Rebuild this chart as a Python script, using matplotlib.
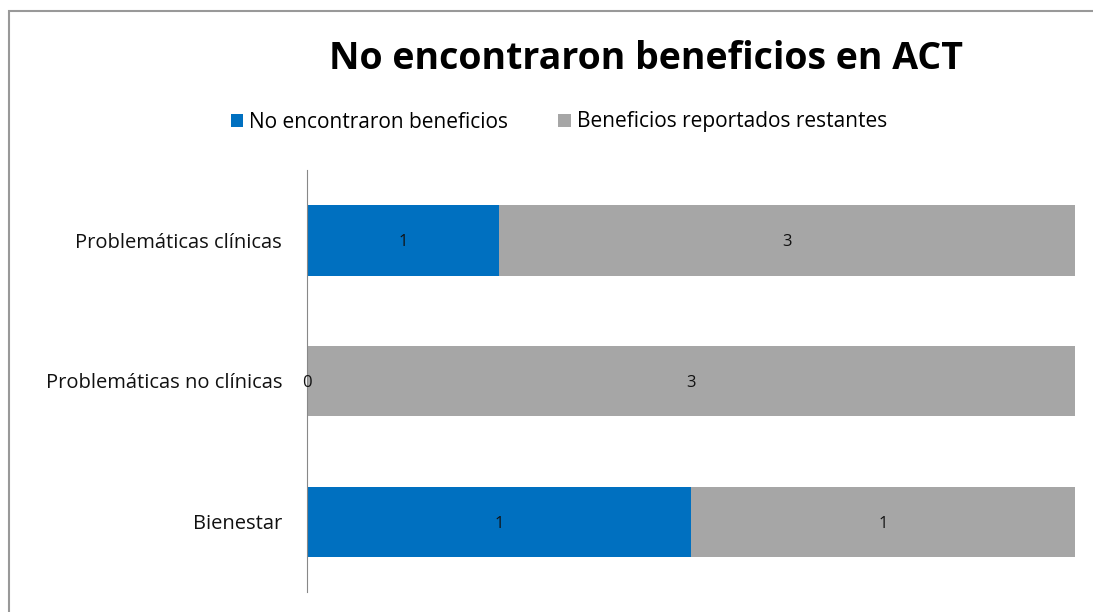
import matplotlib.pyplot as plt
import matplotlib.patches as patches

# data (bottom to top)
categories = ['Bienestar', 'Problemáticas no clínicas', 'Problemáticas clínicas']
no_benefit = [1, 0, 1]
remaining = [1, 3, 3]
series_names = ['No encontraron beneficios', 'Beneficios reportados restantes']

plt.rcParams['font.family'] = ['Open Sans', 'DejaVu Sans']

fig = plt.figure(figsize=(10.93, 6.12), dpi=100)
ax = fig.add_axes([307 / 1093, 20 / 612, 768 / 1093, 422 / 612])

totals = [a + b for a, b in zip(no_benefit, remaining)]
share_a = [a / t for a, t in zip(no_benefit, totals)]
share_b = [b / t for b, t in zip(remaining, totals)]
ypos = list(range(len(categories)))

bars_a = ax.barh(ypos, share_a, height=0.5, color='#0070C0', label=series_names[0])
bars_b = ax.barh(ypos, share_b, left=share_a, height=0.5, color='#A6A6A6', label=series_names[1])

for bars, vals in ((bars_a, no_benefit), (bars_b, remaining)):
    for bar, v in zip(bars, vals):
        ax.text(bar.get_x() + bar.get_width() / 2, bar.get_y() + bar.get_height() / 2,
                str(v), ha='center', va='center_baseline', fontsize=12, color='#111111')

ax.set_xlim(0, 1)
ax.set_ylim(-0.5, 2.5)
ax.set_yticks(ypos)
ax.set_yticklabels(categories, fontsize=14.5, color='#111111')
ax.tick_params(axis='y', length=0, pad=18)
ax.set_xticks([])
for s in ['top', 'right', 'bottom']:
    ax.spines[s].set_visible(False)
ax.spines['left'].set_color('#888888')

fig.text(646 / 1093, 1 - 59 / 612, 'No encontraron beneficios en ACT',
         ha='center', va='center', fontsize=27, fontweight='bold')

fig.legend(handles=[bars_a, bars_b], labels=series_names, loc='center',
           bbox_to_anchor=(559 / 1093, 1 - 122 / 612), ncol=2, frameon=False,
           fontsize=15, handlelength=0.6, handleheight=0.6, handletextpad=0.3,
           columnspacing=2.4)

# outer chart border
fig.patches.append(patches.Rectangle((8.5 / 1093, -0.1), 1.2, 1.1 - 10.5 / 612,
                                     transform=fig.transFigure, fill=False,
                                     edgecolor='#999999', linewidth=1.5))

fig.savefig('out.png', dpi=100)
